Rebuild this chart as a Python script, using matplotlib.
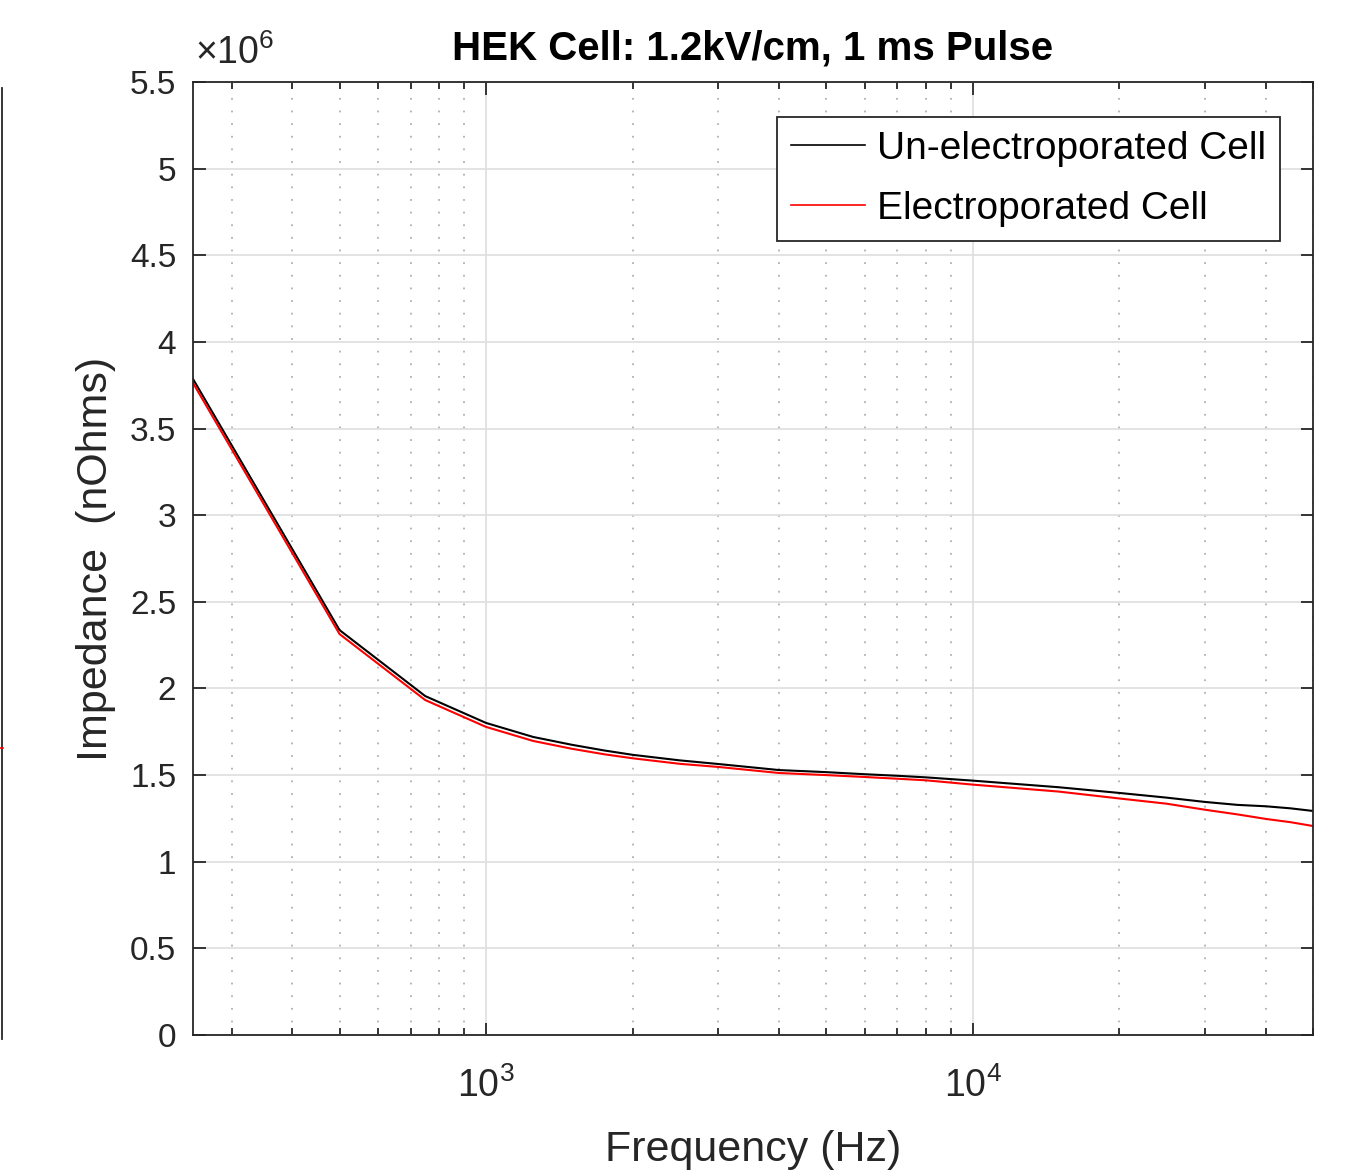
import matplotlib
matplotlib.use("Agg")
import matplotlib.pyplot as plt
from matplotlib.ticker import FuncFormatter, LogLocator
from matplotlib.lines import Line2D

plt.rcParams['font.family'] = ['Liberation Sans', 'DejaVu Sans']
plt.rcParams['mathtext.fontset'] = 'custom'
plt.rcParams['mathtext.rm'] = 'Liberation Sans'
plt.rcParams['mathtext.it'] = 'Liberation Sans'

# Data (impedance in units of 10^6)
freq_hz = [250, 500, 750, 1000, 1250, 1500, 1750, 2000, 2500, 3000, 4000, 5000,
           6000, 7000, 8000, 10000, 15000, 20000, 25000, 30000, 35000, 40000, 45000, 50000]
unelectroporated = [3.786, 2.337, 1.956, 1.801, 1.720, 1.675, 1.642, 1.617, 1.585, 1.564,
                    1.529, 1.517, 1.505, 1.496, 1.487, 1.468, 1.430, 1.397, 1.370, 1.345,
                    1.328, 1.320, 1.308, 1.293]
electroporated = [3.763, 2.314, 1.933, 1.778, 1.697, 1.652, 1.620, 1.597, 1.565, 1.547,
                  1.512, 1.500, 1.489, 1.479, 1.470, 1.445, 1.405, 1.365, 1.335, 1.300,
                  1.273, 1.247, 1.228, 1.206]
series_labels = ["Un-electroporated Cell", "Electroporated Cell"]
y_ticks = [0, 0.5, 1, 1.5, 2, 2.5, 3, 3.5, 4, 4.5, 5, 5.5]

W, H = 1365, 1174
fig = plt.figure(figsize=(W / 100, H / 100), dpi=100)
ax = fig.add_axes([193 / W, 1 - 1035 / H, (1313 - 193) / W, (1035 - 82) / H])

tc = '#262626'
ax.plot(freq_hz, unelectroporated, color='black', lw=1.5, label=series_labels[0])
ax.plot(freq_hz, electroporated, color='red', lw=1.5, label=series_labels[1])

ax.set_xscale('log')
ax.set_xlim(250, 50000)
ax.set_ylim(0, 5.5)
ax.set_yticks(y_ticks)
ax.yaxis.set_major_formatter(FuncFormatter(lambda v, p: f"{v:g}"))
ax.xaxis.set_major_locator(LogLocator(base=10, numticks=10))
ax.xaxis.set_minor_locator(LogLocator(base=10, subs=range(2, 10), numticks=20))

ax.grid(True, which='major', color='#dedede', lw=1.2, ls='-')
ax.grid(True, which='minor', axis='x', color='#b0b0b0', lw=1.3, ls=(0, (1, 6)))
ax.set_axisbelow(True)

for s in ax.spines.values():
    s.set_color(tc)
    s.set_linewidth(1.3)
ax.tick_params(which='both', direction='in', top=True, right=True, colors=tc,
               width=1.3)
ax.tick_params(which='major', length=9, labelsize=24)
ax.tick_params(which='minor', length=5)
ax.tick_params(axis='x', which='major', pad=23, labelsize=27)
ax.tick_params(axis='y', which='major', pad=12)

ax.set_xlabel('Frequency (Hz)', fontsize=31, color=tc, labelpad=18)
ax.set_ylabel('Impedance  (nOhms)', fontsize=31, color=tc, labelpad=10)
ax.set_title('HEK Cell: 1.2kV/cm, 1 ms Pulse', fontsize=29, fontweight='bold',
             color='black', pad=16)

ax.text(0.002, 1.01, r'$\times10^{6}$', transform=ax.transAxes, fontsize=27,
        color=tc, ha='left', va='bottom')

leg = ax.legend(loc='upper right', bbox_to_anchor=((1280 - 193) / 1120, (1035 - 117) / 953),
                borderaxespad=0, fontsize=28, handlelength=1.9, handletextpad=0.3,
                labelspacing=0.62, borderpad=0.36, fancybox=False, framealpha=1,
                edgecolor=tc)
leg.get_frame().set_linewidth(1.3)
for h in leg.legend_handles:
    h.set_linewidth(1.2)

# partial neighbouring axes edge at the far left of the image
fig.add_artist(Line2D([1.5 / W, 1.5 / W], [1 - 88 / H, 1 - 1039 / H], color=tc, lw=1.3,
                      transform=fig.transFigure))
fig.add_artist(Line2D([0, 2.5 / W], [1 - 748 / H, 1 - 748 / H], color='red', lw=1.2,
                      transform=fig.transFigure))

fig.savefig('out.png', dpi=100)
